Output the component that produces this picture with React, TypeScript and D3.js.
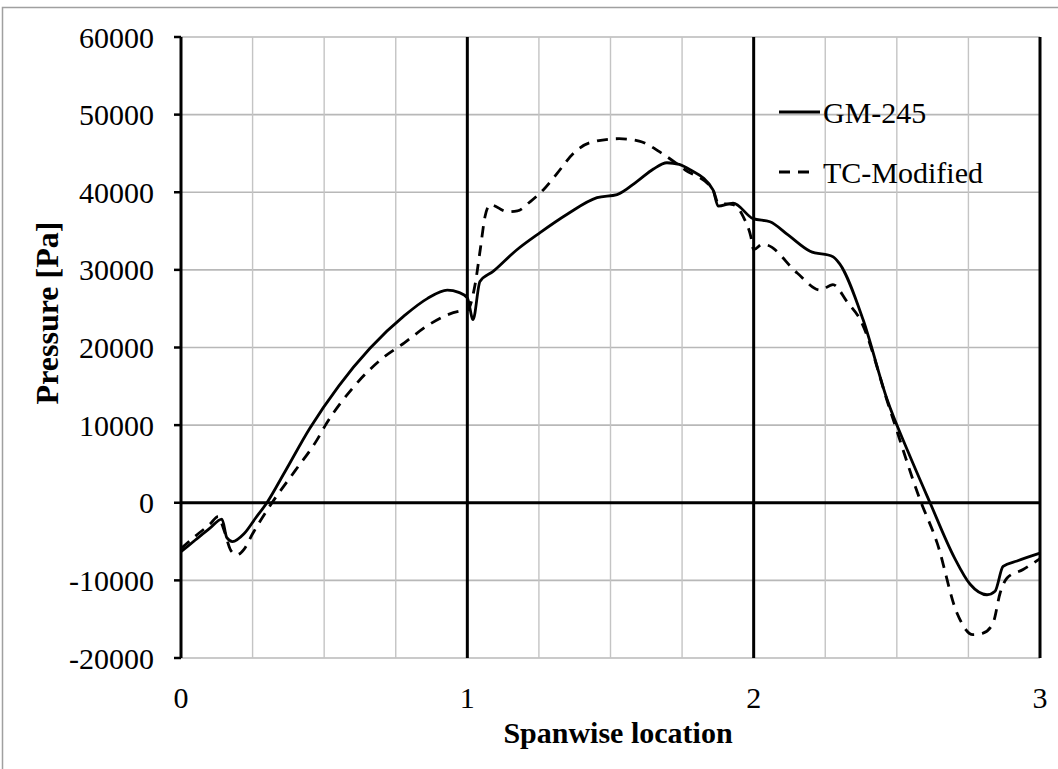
import React from "react";
import * as d3 from "d3";

const gmX = [0, 0.05, 0.1, 0.143, 0.16, 0.18, 0.22, 0.26, 0.3, 0.36, 0.45, 0.55, 0.66, 0.78, 0.86, 0.93, 0.97, 1.0, 1.02, 1.044, 1.09, 1.17, 1.254, 1.35, 1.453, 1.523, 1.593, 1.65, 1.697, 1.74, 1.778, 1.858, 1.876, 1.928, 1.998, 2.057, 2.12, 2.197, 2.277, 2.3, 2.382, 2.466, 2.54, 2.616, 2.7, 2.756, 2.815, 2.843, 2.871, 2.92, 3.0];
const gmY = [-6300, -4800, -3300, -2100, -4500, -5000, -4000, -2000, 0, 3800, 9600, 15000, 19900, 24100, 26300, 27400, 27100, 26400, 23600, 28500, 29800, 32500, 34800, 37200, 39300, 39700, 41400, 43000, 43800, 43600, 42900, 40300, 38200, 38600, 36600, 36200, 34500, 32400, 31700, 30800, 23600, 13300, 6500, 0, -7000, -10500, -11850, -11400, -8200, -7500, -6500];

const tcX = [0, 0.05, 0.1, 0.13, 0.15, 0.175, 0.196, 0.22, 0.25, 0.318, 0.4, 0.475, 0.503, 0.6, 0.7, 0.78, 0.86, 0.93, 0.97, 1.0, 1.028, 1.045, 1.062, 1.08, 1.14, 1.175, 1.22, 1.265, 1.315, 1.37, 1.43, 1.53, 1.6, 1.68, 1.76, 1.858, 1.876, 1.928, 1.963, 1.99, 2.0, 2.03, 2.047, 2.152, 2.232, 2.277, 2.326, 2.372, 2.476, 2.581, 2.641, 2.71, 2.766, 2.801, 2.836, 2.861, 2.885, 2.941, 3.0];
const tcY = [-5900, -4300, -2800, -1800, -3500, -6200, -6700, -6000, -4000, 0, 4200, 8100, 9900, 14800, 18500, 20600, 22800, 24200, 24650, 24800, 28300, 32600, 36900, 38400, 37500, 37600, 38800, 40300, 42500, 45000, 46400, 46900, 46600, 45000, 42900, 40300, 38600, 38400, 36900, 34300, 32600, 33300, 33200, 29600, 27400, 28100, 25900, 23600, 12000, 400, -5200, -14200, -17000, -16800, -15500, -11600, -9700, -8600, -7200];

const yTicks = [-20000, -10000, 0, 10000, 20000, 30000, 40000, 50000, 60000];
const xTicks = [0, 1, 2, 3];
const xGrid = [0.25, 0.5, 0.75, 1.25, 1.5, 1.75, 2.25, 2.5, 2.75];
const seriesNames = ["GM-245", "TC-Modified"];

const FONT = "Liberation Serif, Times New Roman, serif";
const ts: React.CSSProperties = { fontFamily: FONT };

export default function App() {
  const x = d3.scaleLinear().domain([0, 3]).range([181, 1040]);
  const y = d3.scaleLinear().domain([-20000, 60000]).range([658, 37]);
  const line = d3
    .line<[number, number]>()
    .x((d) => x(d[0]))
    .y((d) => y(d[1]))
    .curve(d3.curveMonotoneX);
  const gm = gmX.map((v, i) => [v, gmY[i]] as [number, number]);
  const tc = tcX.map((v, i) => [v, tcY[i]] as [number, number]);
  const [x0, x1] = x.range();
  const [yb, yt] = y.range();

  return (
    <svg
      width={1058}
      height={769}
      style={{ position: "absolute", left: 0, top: 0, background: "#fff", fontFamily: FONT }}
    >
      <rect x={0} y={0} width={1058} height={769} fill="#fff" />
      <rect x={2.5} y={7.5} width={1100} height={800} fill="none" stroke="#a0a0a0" strokeWidth={1.5} />
      {yTicks.filter((t) => t !== 0).map((t) => (
        <line key={"hy" + t} x1={x0} x2={x1} y1={y(t)} y2={y(t)} stroke="#b8b8b8" strokeWidth={1.6} />
      ))}
      {xGrid.map((t) => (
        <line key={"gx" + t} x1={x(t)} x2={x(t)} y1={yt} y2={yb} stroke="#c4c4c4" strokeWidth={1.4} />
      ))}
      {xTicks.map((t) => (
        <line key={"bx" + t} x1={x(t)} x2={x(t)} y1={yt} y2={yb} stroke="#000" strokeWidth={3} />
      ))}
      <line x1={x0} x2={x1} y1={y(0)} y2={y(0)} stroke="#000" strokeWidth={3} />
      {yTicks.map((t) => (
        <line key={"ty" + t} x1={x0 - 7} x2={x0} y1={y(t)} y2={y(t)} stroke="#000" strokeWidth={2.5} />
      ))}
      <path d={line(gm) || ""} fill="none" stroke="#000" strokeWidth={2.8} />
      <path d={line(tc) || ""} fill="none" stroke="#000" strokeWidth={2.8} strokeDasharray="11,8" />
      {yTicks.map((t) => (
        <text key={"ly" + t} x={154} y={y(t)} dy="0.35em" textAnchor="end" fontSize={30} fill="#000" style={ts}>
          {t}
        </text>
      ))}
      {xTicks.map((t) => (
        <text key={"lx" + t} x={x(t)} y={708} textAnchor="middle" fontSize={30} fill="#000" style={ts}>
          {t}
        </text>
      ))}
      <text x={618} y={743} textAnchor="middle" fontSize={30} fontWeight="bold" fill="#000" style={ts}>
        Spanwise location
      </text>
      <text
        transform={`translate(58, ${313}) rotate(-90)`}
        textAnchor="middle"
        fontSize={32}
        fontWeight="bold"
        fill="#000"
        style={ts}
      >
        Pressure [Pa]
      </text>
      <line x1={779} x2={820} y1={112} y2={112} stroke="#000" strokeWidth={2.8} />
      <text x={823} y={123} fontSize={30} fill="#000" style={ts}>{seriesNames[0]}</text>
      <line x1={779} x2={811} y1={172} y2={172} stroke="#000" strokeWidth={2.8} strokeDasharray="11,8" />
      <text x={823} y={183} fontSize={30} fill="#000" style={ts}>{seriesNames[1]}</text>
    </svg>
  );
}
